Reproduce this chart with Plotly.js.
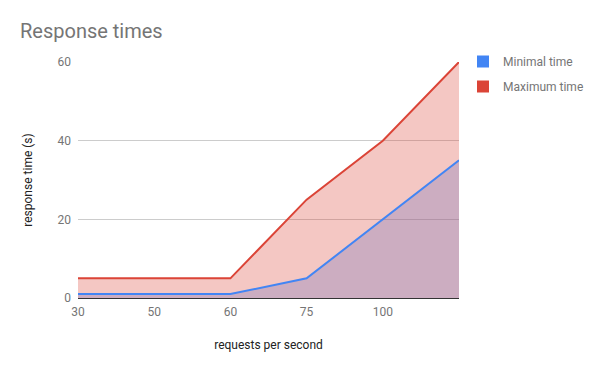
<!DOCTYPE html>
<html><head><meta charset="utf-8">
<script src="https://cdn.plot.ly/plotly-3.0.1.min.js"></script>
<style>html,body{margin:0;padding:0;background:#fff;}#chart{width:600px;height:371px;}</style>
</head><body><div id="chart"></div>
<script>
const categories = ["30", "50", "60", "75", "100", ""];
const minimalTime = [1, 1, 1, 5, 20, 35];
const maximumTime = [5, 5, 5, 25, 40, 60];
const seriesNames = ["Minimal time", "Maximum time"];
const yTicks = [0, 20, 40, 60];

const idx = categories.map((c, i) => i);
const blue = "#4285f4", red = "#db4437";
const font = "Roboto, Arial, sans-serif";

const traces = [
  {x: idx, y: minimalTime, type: "scatter", mode: "lines", fill: "tozeroy",
   fillcolor: "rgba(66,133,244,0.3)", line: {width: 0, color: blue}, showlegend: false, hoverinfo: "skip"},
  {x: idx, y: maximumTime, type: "scatter", mode: "lines", fill: "tozeroy",
   fillcolor: "rgba(219,68,55,0.3)", line: {width: 0, color: red}, showlegend: false, hoverinfo: "skip"},
  {x: idx, y: minimalTime, type: "scatter", mode: "lines", line: {width: 2, color: blue}, showlegend: false},
  {x: idx, y: maximumTime, type: "scatter", mode: "lines", line: {width: 2, color: red}, showlegend: false},
  {x: [null], y: [null], type: "scatter", mode: "markers", name: seriesNames[0], legendgroup: "a",
   marker: {symbol: "square", size: 12, color: blue}},
  {x: [null], y: [null], type: "scatter", mode: "markers", name: seriesNames[1], legendgroup: "b",
   marker: {symbol: "square", size: 12, color: red}}
];

const layout = {
  width: 600, height: 371,
  margin: {l: 78, r: 141, t: 62, b: 73},
  paper_bgcolor: "#fff", plot_bgcolor: "#fff",
  font: {family: font, size: 12, color: "#757575"},
  title: {text: "Response times", font: {family: font, size: 20, color: "#757575"},
          xref: "container", yref: "container", x: 20/600, xanchor: "left", y: 1 - 31/371, yanchor: "middle"},
  xaxis: {range: [0, idx.length - 1], tickvals: idx, ticktext: categories, showgrid: false, zeroline: false,
          showline: false, ticks: "", ticklabelstandoff: 5, tickfont: {size: 12, color: "#757575"},
          title: {text: "requests per second", font: {size: 12, color: "#222"}, standoff: 22}},
  yaxis: {range: [0, 60], tickvals: yTicks, showgrid: true, gridcolor: "#cccccc", gridwidth: 1,
          zeroline: true, zerolinecolor: "#333333", zerolinewidth: 1, showline: false, ticks: "",
          ticklabelstandoff: 6, tickfont: {size: 12, color: "#757575"},
          title: {text: "response time (s)", font: {size: 12, color: "#222"}, standoff: 22}},
  legend: {x: 463/600, xref: "container", y: 1 - 47/371, yref: "container", xanchor: "left", yanchor: "top",
           font: {size: 12, color: "#757575"}, traceorder: "grouped", tracegroupgap: 6, bgcolor: "rgba(0,0,0,0)"},
  showlegend: true
};

Plotly.newPlot("chart", traces, layout, {staticPlot: true, displayModeBar: false});
</script></body></html>
